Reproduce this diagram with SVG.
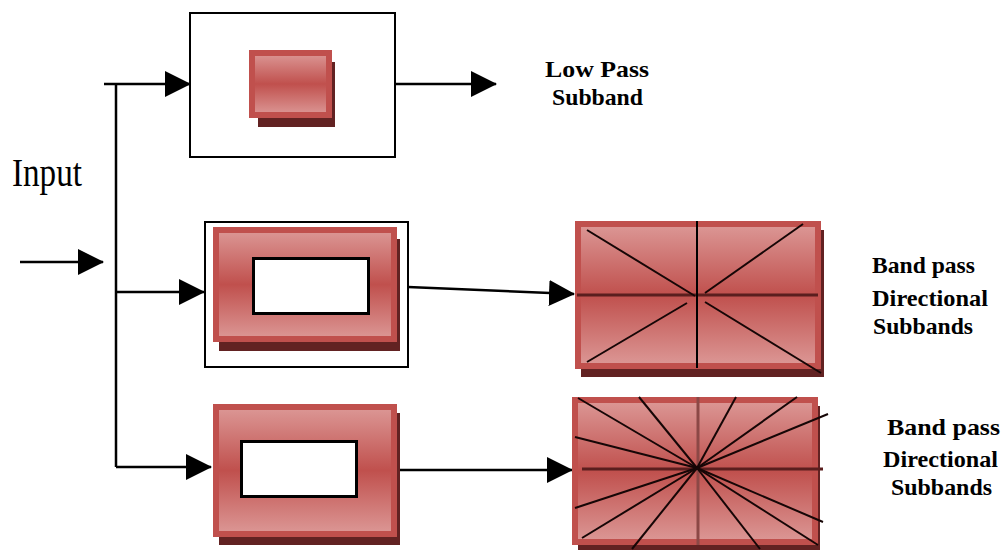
<svg xmlns="http://www.w3.org/2000/svg" width="1008" height="550" viewBox="0 0 1008 550">
  <style>
    .frame { fill: #ffffff; stroke: #000000; stroke-width: 2; }
    .shadow { fill: #622222; stroke: none; }
    .block { fill: url(#redGrad); stroke: #c0504d; stroke-width: 6; }
    .window { fill: #ffffff; stroke: #000000; stroke-width: 3; }
    .wire { fill: none; stroke: #000000; stroke-width: 2.5; }
    .arrow { fill: none; stroke: #000000; stroke-width: 2.5; marker-end: url(#head); }
    .hline { stroke: #5a1e1e; stroke-width: 3; }
    .ray { stroke: #160606; stroke-width: 2; }
    .label { font-family: "Liberation Serif", "Times New Roman", serif; fill: #000000; }
    .small { font-size: 23px; font-weight: bold; }
  </style>
  <defs>
    <linearGradient id="redGrad" x1="0" y1="0" x2="0" y2="1">
      <stop offset="0" stop-color="#dc9896"/>
      <stop offset="0.5" stop-color="#c0504d"/>
      <stop offset="1" stop-color="#dc9896"/>
    </linearGradient>
    <marker id="head" viewBox="0 0 26 26" refX="25" refY="13" markerWidth="26" markerHeight="26" markerUnits="userSpaceOnUse" orient="auto">
      <path d="M0,0 L26,13 L0,26 Z" fill="#000000"/>
    </marker>
  </defs>

  <!-- wiring between stages -->
  <g id="connectors">
    <line class="arrow" x1="20" y1="262" x2="103" y2="262"/>
    <line class="wire" x1="116" y1="84" x2="116" y2="467"/>
    <line class="arrow" x1="104" y1="84" x2="190" y2="84"/>
    <line class="arrow" x1="116" y1="292" x2="204" y2="292"/>
    <line class="arrow" x1="116" y1="467" x2="211" y2="467"/>
    <line class="arrow" x1="396" y1="84" x2="496" y2="84"/>
    <line class="arrow" x1="408" y1="287" x2="574" y2="294"/>
    <line class="arrow" x1="397" y1="470" x2="572" y2="470"/>
  </g>

  <!-- low pass stage -->
  <g id="lowpass">
    <rect class="frame" x="190" y="13" width="205" height="144"/>
    <rect class="shadow" x="258" y="62" width="77" height="65"/>
    <rect class="block" x="252" y="53" width="77" height="62"/>
  </g>

  <!-- band pass stage with frame -->
  <g id="bandpass1">
    <rect class="frame" x="205" y="222" width="203" height="145"/>
    <rect class="shadow" x="219" y="239" width="181" height="112"/>
    <rect class="block" x="216" y="230" width="178" height="109"/>
    <rect class="window" x="253.5" y="258.5" width="115" height="55"/>
  </g>

  <!-- band pass stage -->
  <g id="bandpass2">
    <rect class="shadow" x="219" y="413" width="181" height="132"/>
    <rect class="block" x="216" y="407" width="178" height="127"/>
    <rect class="window" x="241.5" y="441.5" width="115" height="55"/>
  </g>

  <!-- four directional subbands -->
  <g id="subbands1">
    <rect class="shadow" x="581" y="230" width="243" height="147"/>
    <rect class="block" x="578" y="224" width="240" height="142"/>
    <line class="hline" x1="577" y1="295" x2="818" y2="295"/>
    <line x1="697" y1="221" x2="697" y2="368" stroke="#000000" stroke-width="2"/>
    <line class="ray" x1="587" y1="230" x2="695" y2="296"/>
    <line class="ray" x1="803" y1="224" x2="705" y2="293"/>
    <line class="ray" x1="587" y1="362" x2="687" y2="303"/>
    <line class="ray" x1="705" y1="302" x2="821" y2="373"/>
  </g>

  <!-- many directional subbands -->
  <g id="subbands2">
    <rect class="shadow" x="578" y="406" width="242" height="144"/>
    <rect class="block" x="575" y="400" width="240" height="142"/>
    <line class="hline" x1="582" y1="469" x2="823" y2="469"/>
    <line x1="698" y1="397" x2="698" y2="545" stroke="#8c4846" stroke-width="3"/>
    <g class="ray">
      <line x1="697" y1="468" x2="578" y2="398"/>
      <line x1="697" y1="468" x2="639" y2="397"/>
      <line x1="697" y1="468" x2="736" y2="397"/>
      <line x1="697" y1="468" x2="797" y2="397"/>
      <line x1="697" y1="468" x2="828" y2="414"/>
      <line x1="697" y1="468" x2="575" y2="437"/>
      <line x1="697" y1="468" x2="575" y2="508"/>
      <line x1="697" y1="468" x2="582" y2="538"/>
      <line x1="697" y1="468" x2="632" y2="549"/>
      <line x1="697" y1="468" x2="760" y2="549"/>
      <line x1="697" y1="468" x2="818" y2="545"/>
      <line x1="697" y1="468" x2="823" y2="522"/>
    </g>
  </g>

  <!-- labels -->
  <g id="labels">
    <text class="label" x="12" y="186" font-size="40" textLength="70" lengthAdjust="spacingAndGlyphs">Input</text>
    <text class="label small" x="545" y="77" textLength="104" lengthAdjust="spacingAndGlyphs">Low Pass</text>
    <text class="label small" x="552" y="105" textLength="91" lengthAdjust="spacingAndGlyphs">Subband</text>
    <text class="label small" x="872" y="273" textLength="103" lengthAdjust="spacingAndGlyphs">Band pass</text>
    <text class="label small" x="872" y="306" textLength="116" lengthAdjust="spacingAndGlyphs">Directional</text>
    <text class="label small" x="873" y="334" textLength="100" lengthAdjust="spacingAndGlyphs">Subbands</text>
    <text class="label small" x="887" y="435" textLength="113" lengthAdjust="spacingAndGlyphs">Band pass</text>
    <text class="label small" x="883" y="467" textLength="115" lengthAdjust="spacingAndGlyphs">Directional</text>
    <text class="label small" x="891" y="495" textLength="101" lengthAdjust="spacingAndGlyphs">Subbands</text>
  </g>
</svg>
